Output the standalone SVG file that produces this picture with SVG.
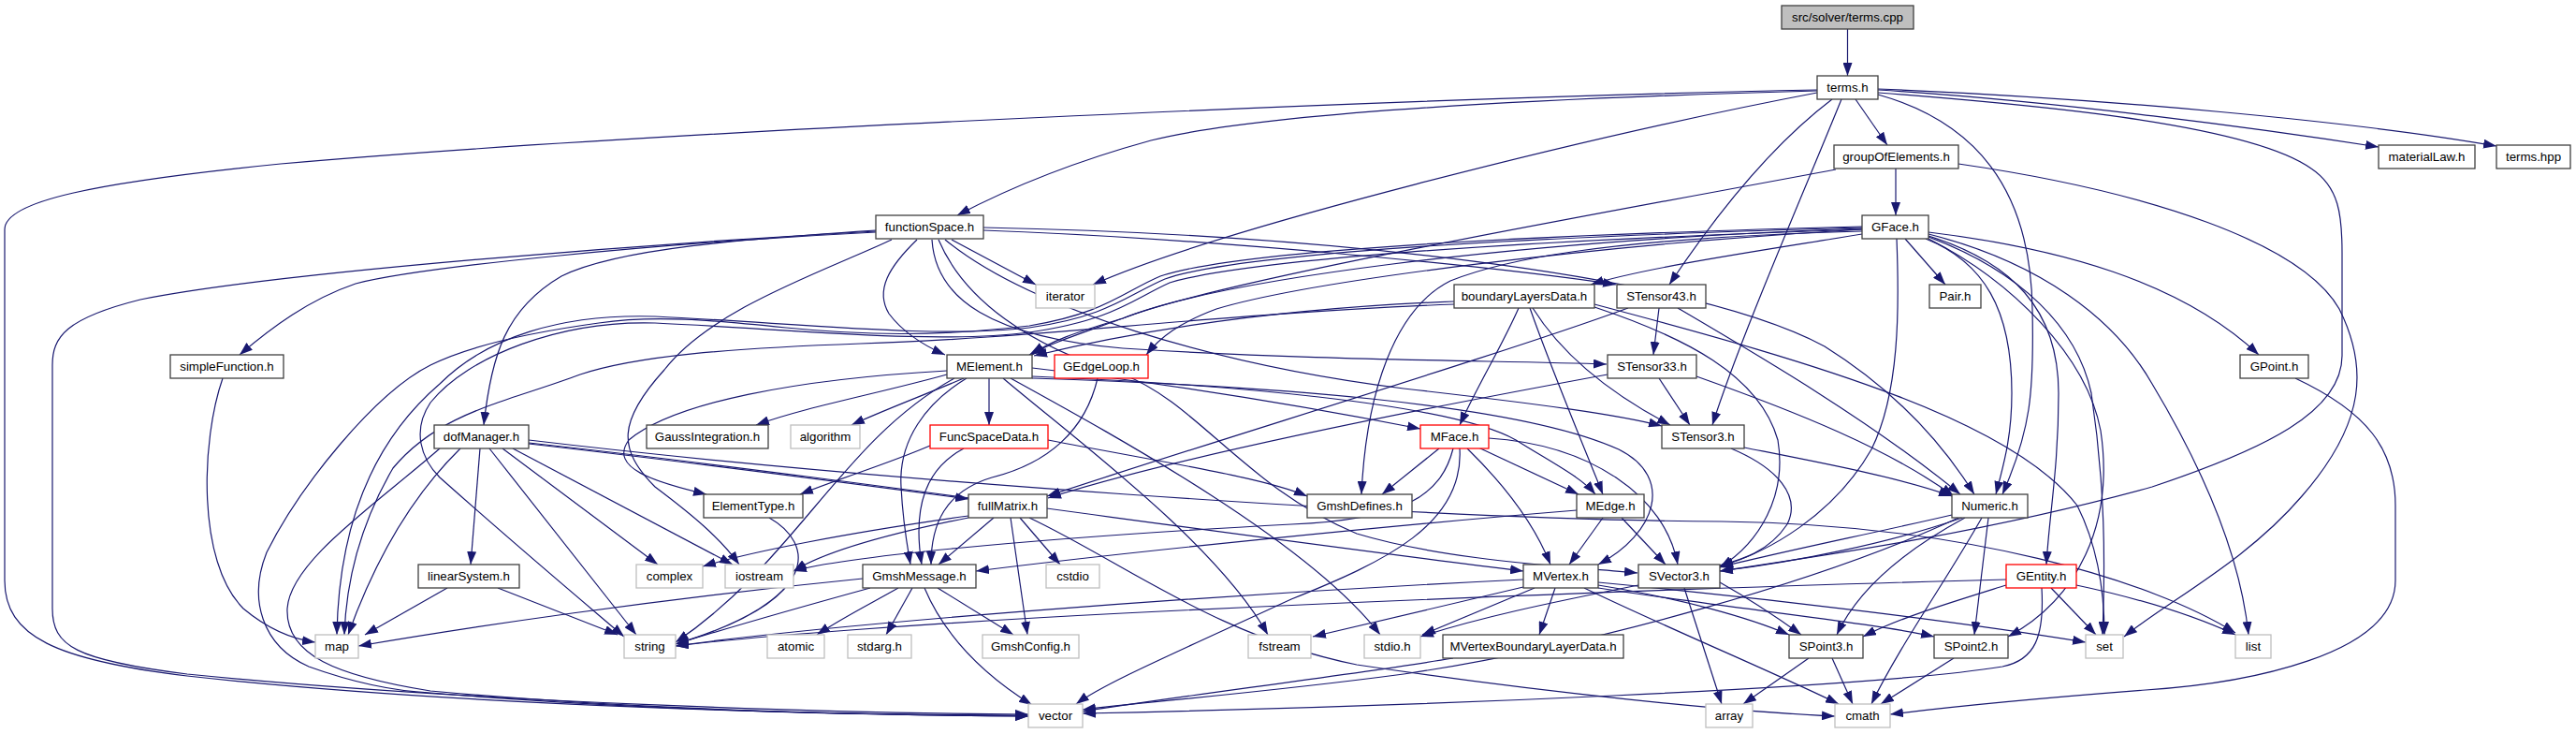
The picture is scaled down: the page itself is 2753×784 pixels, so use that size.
<svg xmlns="http://www.w3.org/2000/svg" width="2753" height="784" viewBox="0 0 2753 784">
<defs>
<marker id="a" viewBox="0 0 14 10" refX="14" refY="5" markerWidth="14" markerHeight="10" markerUnits="userSpaceOnUse" orient="auto"><path d="M0,0 L14,5 L0,10 z" fill="#191970"/></marker>
<style>
.n rect{fill:#fff;stroke:#404040;stroke-width:1.3}
.n.s rect{stroke:#bfbfbf}
.n.r rect{stroke:#ff0000}
.n.g rect{fill:#bfbfbf}
.n text{font-family:"Liberation Sans",Arial,sans-serif;font-size:13.3px;text-anchor:middle;fill:#000}
#edges path{fill:none;stroke:#191970;stroke-width:1.2;marker-end:url(#a)}
</style>
</defs>
<rect width="2753" height="784" fill="#fff"/>
<g id="edges">
<path d="M1974.5,31 L1974.5,81"/>
<path d="M1983,106 L2017,155"/>
<path d="M2007,96 C2200,108 2420,138 2542,157"/>
<path d="M2007,95 C2250,105 2520,130 2668,156"/>
<path d="M1942,97 C1650,105 1350,120 1230,150 C1150,172 1080,200 1023,230"/>
<path d="M1942,99 C1700,145 1300,245 1168,304"/>
<path d="M1942,96 C1500,105 700,140 300,175 C100,195 5,215 5,245 L5,620 C5,680 60,705 200,722 C500,755 900,764 1099,764"/>
<path d="M1958,106 C1900,150 1840,220 1784,304"/>
<path d="M1968,106 C1930,200 1860,360 1830,454"/>
<path d="M2007,101 C2110,130 2170,200 2172,330 C2174,420 2170,460 2140,528"/>
<path d="M2007,99 C2150,110 2400,130 2470,180 C2500,200 2503,230 2503,270 L2503,380 C2503,440 2420,480 2300,520 C2100,575 1900,600 1838,610"/>
<path d="M2026,180 L2026,230"/>
<path d="M1962,181 C1700,230 1300,300 1200,340 C1150,355 1120,365 1103,379"/>
<path d="M2093,175 C2300,205 2460,260 2500,330 C2530,390 2530,450 2460,530 C2400,600 2320,640 2270,680"/>
<path d="M936,247 C700,260 300,290 150,320 C70,340 56,360 56,390 L56,650 C56,690 80,705 200,720 C500,750 900,762 1099,763"/>
<path d="M936,248 C700,260 450,285 380,303 C330,320 290,350 256,379"/>
<path d="M936,246 C800,255 660,265 600,295 C540,330 525,380 517,454"/>
<path d="M980,256 C950,285 935,310 950,335 C965,355 985,368 1010,379"/>
<path d="M1017,256 L1107,304"/>
<path d="M953,256 C880,290 760,330 710,395 C660,450 660,480 700,520 C740,550 770,575 790,603"/>
<path d="M1051,246 C1300,255 1600,285 1727,304"/>
<path d="M996,256 C1000,320 1060,360 1200,372 C1400,385 1600,385 1717,389"/>
<path d="M1010,256 C1100,330 1300,390 1500,415 C1650,432 1730,443 1776,455"/>
<path d="M1051,243 C1400,250 1800,290 1950,370 C2030,420 2080,480 2110,528"/>
<path d="M1003,256 C1030,320 1100,370 1200,400 C1280,430 1330,520 1450,570 C1550,600 1680,605 1750,612"/>
<path d="M2036,255 L2079,304"/>
<path d="M2061,248 C2200,265 2330,300 2414,379"/>
<path d="M2061,250 C2180,280 2260,340 2300,410 C2360,510 2395,600 2403,678"/>
<path d="M2061,252 C2150,280 2200,330 2200,420 C2200,500 2190,550 2187,603"/>
<path d="M2061,253 C2160,290 2220,350 2235,420 C2250,520 2250,600 2247,678"/>
<path d="M2061,255 C2150,300 2230,380 2245,460 C2260,560 2220,640 2146,680"/>
<path d="M2058,255 C2120,280 2150,330 2150,420 C2150,470 2140,500 2133,528"/>
<path d="M2027,255 C2030,330 2030,420 2000,480 C1960,550 1890,590 1838,605"/>
<path d="M1990,250 C1900,265 1760,285 1700,304"/>
<path d="M1990,245 C1700,262 1400,300 1300,330 C1260,345 1240,360 1225,379"/>
<path d="M1990,244 C1600,258 1300,300 1200,340 C1150,358 1120,368 1100,379"/>
<path d="M1990,243 C1600,254 1320,272 1245,298 C1205,315 1185,338 1100,350 C1000,362 850,345 700,338 C600,335 520,360 470,410 C400,470 362,560 360,678"/>
<path d="M1990,245 C1600,258 1330,278 1250,302 C1210,320 1190,342 1100,355 C1000,368 850,352 700,345 C600,342 500,380 460,430 C440,460 450,490 470,510 C560,590 620,640 667,680"/>
<path d="M1990,242 C1600,252 1320,268 1240,295 C1200,312 1180,335 1100,348 C1000,360 920,358 840,350 C760,342 700,336 640,345 C560,356 500,370 460,390 C400,420 320,520 285,590 C265,640 280,690 330,712 C380,730 420,738 460,740 C700,760 950,764 1099,765"/>
<path d="M1990,247 C1700,255 1600,280 1550,300 C1490,330 1460,420 1455,528"/>
<path d="M1554,322 C1400,328 1250,345 1105,380"/>
<path d="M1554,325 C1300,335 1100,362 920,367 C780,372 680,380 620,400 C540,430 470,440 420,500 C385,560 370,620 368,678"/>
<path d="M1623,329 C1605,370 1580,410 1560,454"/>
<path d="M1635,329 C1660,400 1690,470 1713,528"/>
<path d="M1638,329 C1670,380 1720,420 1785,454"/>
<path d="M1704,328 C1800,360 1880,400 1900,470 C1910,530 1880,580 1838,606"/>
<path d="M1704,325 C1950,390 2150,450 2220,540 C2245,590 2249,640 2249,678"/>
<path d="M1773,329 L1767,379"/>
<path d="M1740,329 C1600,380 1300,470 1119,530"/>
<path d="M1793,329 C1880,380 2000,450 2095,528"/>
<path d="M1773,404 L1806,454"/>
<path d="M1718,400 C1500,440 1250,490 1120,532"/>
<path d="M1813,402 C1920,440 2020,480 2088,530"/>
<path d="M1864,478 C1950,495 2030,510 2086,530"/>
<path d="M1850,479 C1900,500 1925,530 1910,560 C1890,590 1860,598 1838,604"/>
<path d="M2086,550 C2000,570 1900,590 1838,606"/>
<path d="M2097,553 C2020,580 1920,600 1838,610"/>
<path d="M2100,553 C2050,580 1990,620 1963,678"/>
<path d="M2125,553 L2110,678"/>
<path d="M2118,553 C2080,620 2030,690 2000,752"/>
<path d="M2093,553 C1950,620 1700,690 1500,720 C1350,740 1220,750 1157,758"/>
<path d="M2144,619 C1900,625 1500,640 1200,655 C1000,665 800,680 722,690"/>
<path d="M2144,625 C2080,645 2030,660 1991,680"/>
<path d="M2192,628 L2240,678"/>
<path d="M2219,625 C2290,640 2350,660 2389,678"/>
<path d="M2182,628 C2185,680 2175,705 2140,712 C2000,735 1500,755 1157,762"/>
<path d="M2453,404 C2530,440 2560,480 2560,540 L2560,620 C2560,700 2400,730 2293,737 C2150,748 2060,758 2020,763"/>
<path d="M1933,703 L1863,752"/>
<path d="M1958,703 L1980,752"/>
<path d="M2088,703 L2010,752"/>
<path d="M1838,622 C1870,640 1900,660 1925,678"/>
<path d="M1800,628 L1840,752"/>
<path d="M1751,625 C1650,645 1580,660 1518,680"/>
<path d="M565,470 C900,510 1500,555 1840,557 C2100,560 2300,620 2389,676"/>
<path d="M1012,400 C940,420 860,435 808,454"/>
<path d="M1030,404 C980,425 940,440 910,454"/>
<path d="M1057,404 L1057,454"/>
<path d="M1012,396 C850,405 720,430 672,470 C650,500 700,515 755,528"/>
<path d="M994,476 C950,495 900,510 855,528"/>
<path d="M1033,404 C990,430 960,470 963,520 C965,560 970,585 973,603"/>
<path d="M1103,393 C1250,410 1400,435 1518,458"/>
<path d="M1103,402 C1300,410 1550,430 1620,470 C1660,495 1690,510 1705,528"/>
<path d="M1103,404 C1350,412 1620,430 1730,480 C1790,510 1770,570 1708,603"/>
<path d="M1020,404 C900,470 850,600 722,686"/>
<path d="M1080,404 C1200,470 1400,580 1475,678"/>
<path d="M1072,404 C1150,470 1300,580 1355,678"/>
<path d="M1120,470 C1250,495 1350,510 1397,530"/>
<path d="M565,474 C750,495 900,515 1035,533"/>
<path d="M1030,479 C990,500 975,540 985,603"/>
<path d="M1173,404 C1160,460 1120,495 1060,510 C1010,525 995,560 995,603"/>
<path d="M1062,553 L1003,603"/>
<path d="M1090,553 L1133,603"/>
<path d="M1080,553 L1098,678"/>
<path d="M1035,551 C900,570 800,590 751,605"/>
<path d="M1035,553 C950,570 880,590 848,610"/>
<path d="M1100,553 C1200,600 1300,680 1450,710 C1650,740 1850,760 1961,765"/>
<path d="M922,618 C700,640 500,670 383,690"/>
<path d="M930,628 C850,650 780,670 722,688"/>
<path d="M960,628 C930,645 900,660 873,678"/>
<path d="M975,628 L947,678"/>
<path d="M1002,628 L1083,678"/>
<path d="M988,628 C1010,680 1050,720 1103,753"/>
<path d="M513,479 L503,603"/>
<path d="M492,479 C440,530 400,600 372,678"/>
<path d="M523,479 L680,678"/>
<path d="M537,479 L703,603"/>
<path d="M548,479 L783,603"/>
<path d="M470,479 C400,540 310,600 307,650 C305,700 360,722 460,738 C700,760 950,764 1099,765"/>
<path d="M565,473 C900,510 1300,570 1628,610"/>
<path d="M478,628 L390,678"/>
<path d="M532,628 L660,678"/>
<path d="M822,553 C870,580 880,640 722,688"/>
<path d="M238,404 C215,470 210,600 260,650 C290,675 315,683 337,686"/>
<path d="M1538,479 L1477,528"/>
<path d="M1580,478 L1687,528"/>
<path d="M1568,479 C1610,520 1640,560 1657,603"/>
<path d="M1591,468 C1700,475 1780,530 1793,603"/>
<path d="M1553,479 C1540,530 1500,555 1380,560 C1100,575 900,595 848,610"/>
<path d="M1560,479 C1565,560 1480,600 1380,640 C1250,700 1180,730 1150,752"/>
<path d="M1713,553 L1677,603"/>
<path d="M1733,553 L1780,603"/>
<path d="M1685,545 C1500,560 1200,590 1043,610"/>
<path d="M1662,628 L1645,678"/>
<path d="M1640,628 L1520,678"/>
<path d="M1628,627 L1403,680"/>
<path d="M1628,619 C1300,635 900,665 722,690"/>
<path d="M1708,625 C1800,640 1870,660 1912,678"/>
<path d="M1708,628 C1850,650 2000,665 2067,680"/>
<path d="M1708,622 C1900,640 2100,665 2229,686"/>
<path d="M1693,628 C1780,670 1900,720 1965,752"/>
<path d="M1553,703 C1450,720 1250,745 1157,760"/>
</g>
<g id="n_terms_cpp" class="n g"><rect x="1904" y="6" width="141" height="25"/><text x="1974.5" y="23">src/solver/terms.cpp</text></g>
<g id="n_terms_h" class="n"><rect x="1942" y="81" width="65" height="25"/><text x="1974.5" y="98">terms.h</text></g>
<g id="n_groupOfElements" class="n"><rect x="1960" y="155" width="133" height="25"/><text x="2026.5" y="172">groupOfElements.h</text></g>
<g id="n_materialLaw" class="n"><rect x="2542" y="155" width="103" height="25"/><text x="2593.5" y="172">materialLaw.h</text></g>
<g id="n_terms_hpp" class="n"><rect x="2668" y="155" width="79" height="25"/><text x="2707.5" y="172">terms.hpp</text></g>
<g id="n_functionSpace" class="n"><rect x="936" y="230" width="115" height="25"/><text x="993.5" y="247">functionSpace.h</text></g>
<g id="n_GFace" class="n"><rect x="1990" y="230" width="71" height="25"/><text x="2025.5" y="247">GFace.h</text></g>
<g id="n_iterator" class="n s"><rect x="1107" y="304" width="63" height="25"/><text x="1138.5" y="321">iterator</text></g>
<g id="n_boundaryLayersData" class="n"><rect x="1554" y="304" width="150" height="25"/><text x="1629" y="321">boundaryLayersData.h</text></g>
<g id="n_STensor43" class="n"><rect x="1728" y="304" width="95" height="25"/><text x="1775.5" y="321">STensor43.h</text></g>
<g id="n_Pair" class="n"><rect x="2062" y="304" width="55" height="25"/><text x="2089.5" y="321">Pair.h</text></g>
<g id="n_simpleFunction" class="n"><rect x="182" y="379" width="121" height="25"/><text x="242.5" y="396">simpleFunction.h</text></g>
<g id="n_MElement" class="n"><rect x="1012" y="379" width="91" height="25"/><text x="1057.5" y="396">MElement.h</text></g>
<g id="n_GEdgeLoop" class="n r"><rect x="1127" y="379" width="100" height="25"/><text x="1177" y="396">GEdgeLoop.h</text></g>
<g id="n_STensor33" class="n"><rect x="1718" y="379" width="95" height="25"/><text x="1765.5" y="396">STensor33.h</text></g>
<g id="n_GPoint" class="n"><rect x="2394" y="379" width="73" height="25"/><text x="2430.5" y="396">GPoint.h</text></g>
<g id="n_dofManager" class="n"><rect x="464" y="454" width="101" height="25"/><text x="514.5" y="471">dofManager.h</text></g>
<g id="n_GaussIntegration" class="n"><rect x="691" y="454" width="130" height="25"/><text x="756" y="471">GaussIntegration.h</text></g>
<g id="n_algorithm" class="n s"><rect x="845" y="454" width="74" height="25"/><text x="882" y="471">algorithm</text></g>
<g id="n_FuncSpaceData" class="n r"><rect x="994" y="454" width="126" height="25"/><text x="1057" y="471">FuncSpaceData.h</text></g>
<g id="n_MFace" class="n r"><rect x="1518" y="454" width="73" height="25"/><text x="1554.5" y="471">MFace.h</text></g>
<g id="n_STensor3" class="n"><rect x="1776" y="454" width="88" height="25"/><text x="1820" y="471">STensor3.h</text></g>
<g id="n_ElementType" class="n"><rect x="752" y="528" width="106" height="25"/><text x="805" y="545">ElementType.h</text></g>
<g id="n_fullMatrix" class="n"><rect x="1035" y="528" width="84" height="25"/><text x="1077" y="545">fullMatrix.h</text></g>
<g id="n_GmshDefines" class="n"><rect x="1397" y="528" width="112" height="25"/><text x="1453" y="545">GmshDefines.h</text></g>
<g id="n_MEdge" class="n"><rect x="1685" y="528" width="72" height="25"/><text x="1721" y="545">MEdge.h</text></g>
<g id="n_Numeric" class="n"><rect x="2086" y="528" width="81" height="25"/><text x="2126.5" y="545">Numeric.h</text></g>
<g id="n_linearSystem" class="n"><rect x="447" y="603" width="108" height="25"/><text x="501" y="620">linearSystem.h</text></g>
<g id="n_complex" class="n s"><rect x="680" y="603" width="71" height="25"/><text x="715.5" y="620">complex</text></g>
<g id="n_iostream" class="n s"><rect x="775" y="603" width="73" height="25"/><text x="811.5" y="620">iostream</text></g>
<g id="n_GmshMessage" class="n"><rect x="922" y="603" width="121" height="25"/><text x="982.5" y="620">GmshMessage.h</text></g>
<g id="n_cstdio" class="n s"><rect x="1118" y="603" width="57" height="25"/><text x="1146.5" y="620">cstdio</text></g>
<g id="n_MVertex" class="n"><rect x="1628" y="603" width="80" height="25"/><text x="1668" y="620">MVertex.h</text></g>
<g id="n_SVector3" class="n"><rect x="1751" y="603" width="87" height="25"/><text x="1794.5" y="620">SVector3.h</text></g>
<g id="n_GEntity" class="n r"><rect x="2144" y="603" width="75" height="25"/><text x="2181.5" y="620">GEntity.h</text></g>
<g id="n_map" class="n s"><rect x="337" y="678" width="46" height="25"/><text x="360" y="695">map</text></g>
<g id="n_string" class="n s"><rect x="667" y="678" width="55" height="25"/><text x="694.5" y="695">string</text></g>
<g id="n_atomic" class="n s"><rect x="820" y="678" width="61" height="25"/><text x="850.5" y="695">atomic</text></g>
<g id="n_stdarg" class="n s"><rect x="906" y="678" width="68" height="25"/><text x="940" y="695">stdarg.h</text></g>
<g id="n_GmshConfig" class="n s"><rect x="1050" y="678" width="103" height="25"/><text x="1101.5" y="695">GmshConfig.h</text></g>
<g id="n_fstream" class="n s"><rect x="1334" y="678" width="67" height="25"/><text x="1367.5" y="695">fstream</text></g>
<g id="n_stdio" class="n s"><rect x="1458" y="678" width="60" height="25"/><text x="1488" y="695">stdio.h</text></g>
<g id="n_MVertexBoundaryLayerData" class="n"><rect x="1542" y="678" width="193" height="25"/><text x="1638.5" y="695">MVertexBoundaryLayerData.h</text></g>
<g id="n_SPoint3" class="n"><rect x="1912" y="678" width="79" height="25"/><text x="1951.5" y="695">SPoint3.h</text></g>
<g id="n_SPoint2" class="n"><rect x="2067" y="678" width="79" height="25"/><text x="2106.5" y="695">SPoint2.h</text></g>
<g id="n_set" class="n s"><rect x="2229" y="678" width="40" height="25"/><text x="2249" y="695">set</text></g>
<g id="n_list" class="n s"><rect x="2389" y="678" width="38" height="25"/><text x="2408" y="695">list</text></g>
<g id="n_vector" class="n s"><rect x="1099" y="752" width="58" height="25"/><text x="1128" y="769">vector</text></g>
<g id="n_array" class="n s"><rect x="1823" y="752" width="50" height="25"/><text x="1848" y="769">array</text></g>
<g id="n_cmath" class="n s"><rect x="1961" y="752" width="59" height="25"/><text x="1990.5" y="769">cmath</text></g>
</svg>
